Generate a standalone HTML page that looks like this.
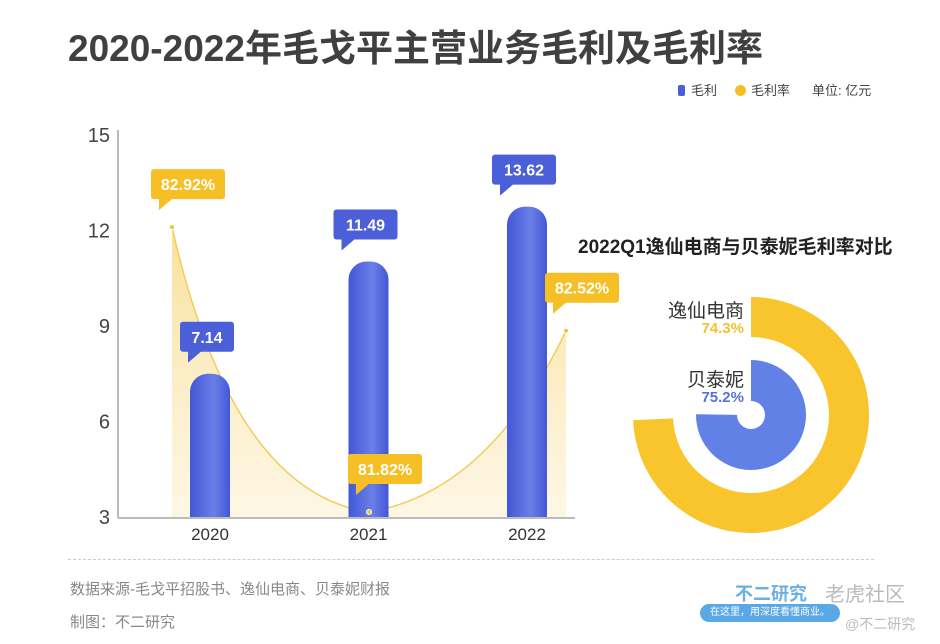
<!DOCTYPE html>
<html><head><meta charset="utf-8"><style>
body{margin:0;background:#fff;font-family:"Liberation Sans","Noto Sans CJK SC",sans-serif;}
#wrap{position:relative;width:940px;height:644px;overflow:hidden;background:#fff;}
.t{position:absolute;white-space:nowrap;}
</style></head><body>
<div id="wrap">
<div class="t" style="left:68px;top:18px;font-size:37px;font-weight:bold;color:#404040;">2020-2022年毛戈平主营业务毛利及毛利率</div>
<div class="t" style="left:678px;top:80px;font-size:13px;color:#444;"><span style="display:inline-block;width:7px;height:11px;background:#4a5fd8;border-radius:2px;margin-right:6px;vertical-align:-1px"></span>毛利</div>
<div class="t" style="left:735px;top:80px;font-size:13px;color:#444;"><span style="display:inline-block;width:11px;height:11px;background:#f6bf26;border-radius:50%;margin-right:5px;vertical-align:-1px"></span>毛利率</div>
<div class="t" style="left:812px;top:80px;font-size:13px;color:#444;">单位: 亿元</div>
<svg id="svg" width="940" height="644" style="position:absolute;left:0;top:0">
<defs>
<linearGradient id="area" x1="0" y1="0" x2="0" y2="1"><stop offset="0" stop-color="#f7d77a" stop-opacity="0.75"/><stop offset="1" stop-color="#fbeec8" stop-opacity="0.5"/></linearGradient>
<linearGradient id="bar" x1="0" y1="0" x2="1" y2="0"><stop offset="0" stop-color="#4257d6"/><stop offset="0.6" stop-color="#6a7fe6"/><stop offset="1" stop-color="#4257d6"/></linearGradient>
<clipPath id="cl"><rect x="0" y="0" width="940" height="542"/></clipPath>
<clipPath id="bc"><rect x="0" y="0" width="940" height="517"/></clipPath>
</defs>
</svg>
<div class="t" style="left:578px;top:232px;font-size:19px;font-weight:bold;color:#222;">2022Q1逸仙电商与贝泰妮毛利率对比</div>
<div class="t" style="left:668px;top:296px;font-size:19px;color:#333;text-align:right;width:76px;">逸仙电商</div>
<div class="t" style="left:668px;top:320px;font-size:15px;font-weight:bold;color:#f2c230;text-align:right;width:76px;">74.3%</div>
<div class="t" style="left:668px;top:365px;font-size:19px;color:#333;text-align:right;width:76px;">贝泰妮</div>
<div class="t" style="left:668px;top:389px;font-size:15px;font-weight:bold;color:#5673d8;text-align:right;width:76px;">75.2%</div>
<div style="position:absolute;left:68px;top:559px;width:806px;border-top:1px dashed #ccc;"></div>
<div class="t" style="left:70px;top:578px;font-size:15px;color:#888;">数据来源-毛戈平招股书、逸仙电商、贝泰妮财报</div>
<div class="t" style="left:70px;top:611px;font-size:15px;color:#888;">制图：不二研究</div>
<div class="t" style="left:735px;top:580px;font-size:18px;font-weight:bold;color:#6ab0e0;">不二研究</div>
<div class="t" style="left:700px;top:604px;width:140px;height:18px;background:#5aa8e6;border-radius:9px;font-size:10px;color:#fff;text-align:center;line-height:18px;">在这里，用深度看懂商业。</div>
<div class="t" style="left:825px;top:578px;font-size:20px;color:#bbb;">老虎社区</div>
<div class="t" style="left:845px;top:614px;font-size:14px;color:#bbb;">@不二研究</div>
</div>
<script>
const years=["2020","2021","2022"];
const profit=[7.14,11.49,13.62];
const margin=[82.92,81.82,82.52];
const yTicks=[3,6,9,12,15];
const donutLabels=["逸仙电商","贝泰妮"];
const donutValues=[74.3,75.2];

const NS="http://www.w3.org/2000/svg";
const svg=document.getElementById('svg');
function mk(t,a,p){const e=document.createElementNS(NS,t);for(const k in a)e.setAttribute(k,a[k]);(p||svg).appendChild(e);return e;}
const y=v=>517-(v-3)*(382/12);
const yB=v=>558-v*25.8;
const xBar=i=>210+i*158.5;
const xLine=i=>172+i*197;
const yM=v=>512-(v-81.82)*259;

const ax=mk('line',{x1:118,y1:130,x2:118,y2:518,stroke:'#bbb','stroke-width':2});

const bx=mk('line',{x1:118,y1:518,x2:575,y2:518,stroke:'#bbb','stroke-width':2});

yTicks.forEach(v=>{const t=mk('text',{x:110,y:y(v)+7,'text-anchor':'end','font-size':20,fill:'#444'});t.textContent=v;
});

const pts=margin.map((m,i)=>[xLine(i),yM(m)]);
let d=`M${pts[0][0]},${pts[0][1]} Q${pts[0][0]+60},${pts[1][1]-20} ${pts[1][0]},${pts[1][1]} Q${pts[1][0]+120},${pts[1][1]-20} ${pts[2][0]},${pts[2][1]}`;
const ar=mk('path',{d:d+` L${pts[2][0]},517 L${pts[0][0]},517 Z`,fill:'url(#area)'});

const ln=mk('path',{d:d,fill:'none',stroke:'#f3cd5a','stroke-width':1.5});


function bubble(cx,top,txt,col,name){
  const g=mk('g',{});
  
  const w=txt.length*10+14,h=30;
  mk('rect',{x:cx-w/2,y:top,width:w,height:h,rx:3,fill:col},g);
  mk('path',{d:`M${cx-w/2+8},${top+h-1} L${cx-w/2+8},${top+h+11} L${cx-w/2+22},${top+h-1}Z`,fill:col},g);
  const t=mk('text',{x:cx,y:top+21,'text-anchor':'middle','font-size':16,'font-weight':'bold',fill:'#fff'},g);t.textContent=txt;
}
const bg=mk('g',{'clip-path':'url(#bc)'});

profit.forEach((v,i)=>{
  const cx=xBar(i),top=yB(v);
  const r=mk('rect',{x:cx-20,y:top,width:40,height:517-top+30,rx:18,fill:'url(#bar)'},bg);
  
});
profit.forEach((v,i)=>{
  const cx=xBar(i),top=yB(v);
  bubble(cx-3,top-52,profit[i].toFixed(2),'#4a5fd8','bar-value-label');
  const t=mk('text',{x:cx,y:540,'text-anchor':'middle','font-size':17,fill:'#333'});t.textContent=years[i];
  
});
margin.forEach((m,i)=>{
  const p=pts[i];
  const c=mk('circle',{cx:p[0],cy:p[1],r:2.5,fill:'#f6c230',stroke:'#fff','stroke-width':1});
  
  bubble(p[0]+16,p[1]-58,m.toFixed(2)+'%','#f6bf26','margin-value-label');
});

const g=mk('g',{'clip-path':'url(#cl)'});

const cx=751,cy=415;
function arc(r0,r1,pct,col,name){
  const a=pct/100*2*Math.PI;
  const p=(r,t)=>[cx+r*Math.sin(t),cy-r*Math.cos(t)];
  const large=a>Math.PI?1:0;
  const [x1,y1]=p(r1,0),[x2,y2]=p(r1,a),[x3,y3]=p(r0,a),[x4,y4]=p(r0,0);
  const e=mk('path',{d:`M${x1},${y1} A${r1},${r1} 0 ${large} 1 ${x2},${y2} L${x3},${y3} A${r0},${r0} 0 ${large} 0 ${x4},${y4}Z`,fill:col},g);
  
}
arc(78,118,donutValues[0],'#f8c52c','donut-ring-yixian');
arc(14,55,donutValues[1],'#6181e6','donut-ring-botanee');
</script>
</body></html>
